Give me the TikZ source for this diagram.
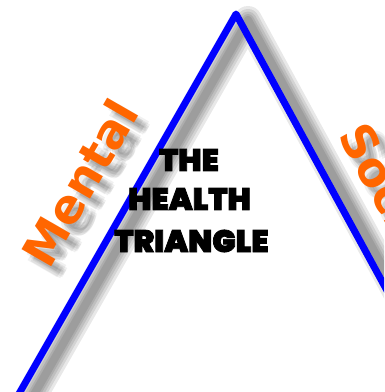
\documentclass[tikz,border=0pt]{standalone}
\usepackage{fontspec}
\newfontfamily\lblfont{DejaVu Sans}
\newfontfamily\blk{Poppins Black}[FakeBold=2.5]
\definecolor{tblue}{RGB}{0,0,255}
\definecolor{torange}{RGB}{255,102,0}
\begin{document}
\begin{tikzpicture}[x=1pt,y=-1pt,
  side/.style={draw=tblue, line width=7pt, line join=round},
  shadowline/.style={draw=black, opacity=0.09, line join=round},
  sidelabel/.style={text=torange, font=\lblfont\bfseries\fontsize{47}{47}\selectfont, inner sep=0},
  labelshadow/.style={sidelabel, text=black, opacity=0.06},
  title/.style={font=\blk\fontsize{31}{31}\selectfont, inner sep=0}]
\useasboundingbox (0,0) rectangle (384,392);
\clip (0,0) rectangle (384,392);
\fill[white] (0,0) rectangle (384,392);
\coordinate (apex) at (236,14);
\coordinate (lb) at (-12.4,448.7);
\coordinate (rb) at (428.4,366.3);
\coordinate (mpos) at (80,183);
\coordinate (spos) at (391,196);
% shadows
\foreach \w in {28,22,17,12,8}{
  \draw[shadowline, line width=\w pt] ([shift={(12,6)}]lb) -- ([shift={(12,6)}]apex) -- ([shift={(12,6)}]rb);
}
\foreach \dx/\dy in {5/5,8/8,11/11,6/11,11/6,9/12,12/9}{
  \node[labelshadow, rotate=60] at ([shift={(\dx,\dy)}]mpos) {Mental};
  \node[labelshadow, rotate=-61] at ([shift={(\dx,\dy)}]spos) {Social};
}
% labels
\node[sidelabel, rotate=60] (mental) at (mpos) {Mental};
\node[sidelabel, rotate=-61] (social) at (spos) {Social};
% triangle
\draw[side] (lb) -- (apex) -- (rb);
% title
\node[title] (t1) at (189,160) {THE};
\node[title] (t2) at (189.5,199) {HEALTH};
\node[title] (t3) at (191.5,241) {TRIANGLE};
\end{tikzpicture}
\end{document}
